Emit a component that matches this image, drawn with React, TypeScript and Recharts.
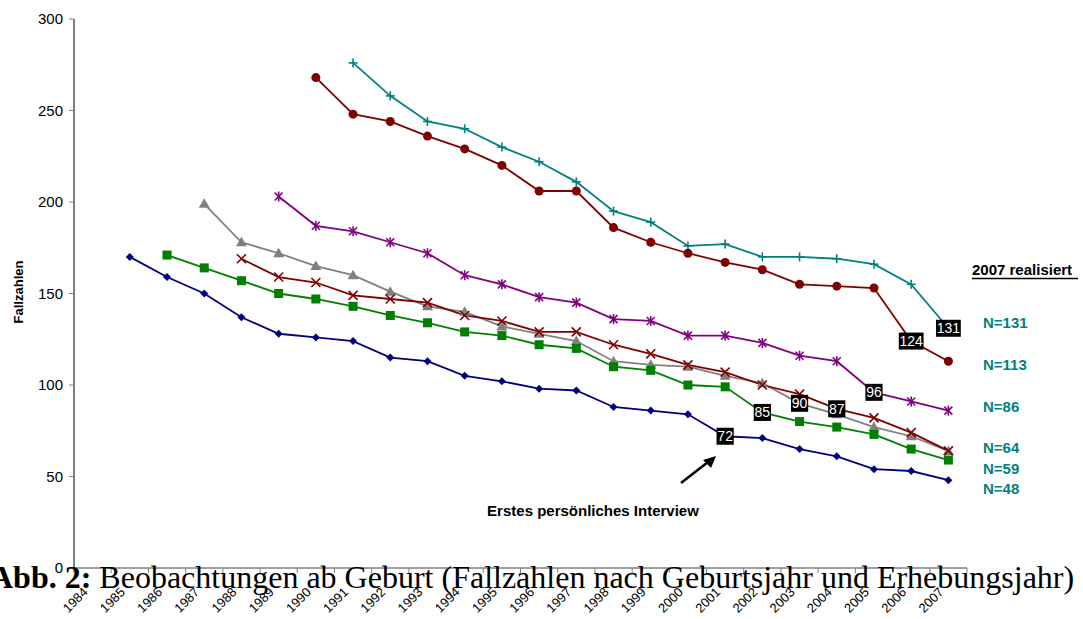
import React from "react";
import { LineChart, Line, XAxis, YAxis, LabelList } from "recharts";

// Erhebungsjahre (x axis)
const years = [
  1984, 1985, 1986, 1987, 1988, 1989, 1990, 1991, 1992, 1993, 1994, 1995,
  1996, 1997, 1998, 1999, 2000, 2001, 2002, 2003, 2004, 2005, 2006, 2007,
];

const yTicks = [0, 50, 100, 150, 200, 250, 300];

// Fallzahlen je Geburtsjahrgang
const jg1985 = [null, 170, 159, 150, 137, 128, 126, 124, 115, 113, 105, 102, 98, 97, 88, 86, 84, 72, 71, 65, 61, 54, 53, 48];
const jg1986 = [null, null, 171, 164, 157, 150, 147, 143, 138, 134, 129, 127, 122, 120, 110, 108, 100, 99, 85, 80, 77, 73, 65, 59];
const jg1987 = [null, null, null, 199, 178, 172, 165, 160, 151, 143, 140, 132, 128, 124, 113, 111, 110, 105, 101, 90, 84, 77, 72, 64];
const jg1988 = [null, null, null, null, 169, 159, 156, 149, 147, 145, 138, 135, 129, 129, 122, 117, 111, 107, 100, 95, 87, 82, 74, 64];
const jg1989 = [null, null, null, null, null, 203, 187, 184, 178, 172, 160, 155, 148, 145, 136, 135, 127, 127, 123, 116, 113, 96, 91, 86];
const jg1990 = [null, null, null, null, null, null, 268, 248, 244, 236, 229, 220, 206, 206, 186, 178, 172, 167, 163, 155, 154, 153, 124, 113];
const jg1991 = [null, null, null, null, null, null, null, 276, 258, 244, 240, 230, 222, 211, 195, 189, 176, 177, 170, 170, 169, 166, 155, 131];

// Jahr des ersten persönlichen Interviews je Jahrgang
const interviewYears = [2001, 2002, 2003, 2004, 2005, 2006, 2007];

// N im Jahr 2007
const realisiert = ["N=131", "N=113", "N=86", "N=64", "N=59", "N=48"];

const data = years.map((year, i) => ({
  year: String(year),
  jg1985: jg1985[i],
  jg1986: jg1986[i],
  jg1987: jg1987[i],
  jg1988: jg1988[i],
  jg1989: jg1989[i],
  jg1990: jg1990[i],
  jg1991: jg1991[i],
}));

const series = [
  { key: "jg1991", color: "#008080", shape: "plus", label: interviewYears[6] },
  { key: "jg1990", color: "#800000", shape: "circle", label: interviewYears[5] },
  { key: "jg1989", color: "#800080", shape: "star", label: interviewYears[4] },
  { key: "jg1987", color: "#808080", shape: "triangle", label: interviewYears[2] },
  { key: "jg1988", color: "#800000", shape: "cross", label: interviewYears[3] },
  { key: "jg1986", color: "#008000", shape: "square", label: interviewYears[1] },
  { key: "jg1985", color: "#000080", shape: "diamond", label: interviewYears[0] },
];

const SANS = "'Liberation Sans', Arial, sans-serif";
const SERIF = "'Liberation Serif', 'Times New Roman', serif";
const BAND = 893 / 24;

function makeDot(shape: string, color: string) {
  return (props: any) => {
    const { cx, cy, value, index } = props;
    const k = `${shape}-${index}`;
    if (value == null || cx == null || cy == null) return <g key={k} />;
    switch (shape) {
      case "diamond":
        return <path key={k} d={`M${cx},${cy - 4}L${cx + 4},${cy}L${cx},${cy + 4}L${cx - 4},${cy}Z`} fill={color} />;
      case "square":
        return <rect key={k} x={cx - 4.5} y={cy - 4.5} width={9} height={9} fill={color} />;
      case "triangle":
        return <path key={k} d={`M${cx},${cy - 5.5}L${cx + 5.5},${cy + 4}L${cx - 5.5},${cy + 4}Z`} fill={color} />;
      case "circle":
        return <circle key={k} cx={cx} cy={cy} r={4.5} fill={color} />;
      case "cross":
        return (
          <g key={k} stroke={color} strokeWidth={1.6}>
            <line x1={cx - 4.5} y1={cy - 4.5} x2={cx + 4.5} y2={cy + 4.5} />
            <line x1={cx - 4.5} y1={cy + 4.5} x2={cx + 4.5} y2={cy - 4.5} />
          </g>
        );
      case "star":
        return (
          <g key={k} stroke={color} strokeWidth={1.6}>
            <line x1={cx - 4} y1={cy - 4} x2={cx + 4} y2={cy + 4} />
            <line x1={cx - 4} y1={cy + 4} x2={cx + 4} y2={cy - 4} />
            <line x1={cx} y1={cy - 5} x2={cx} y2={cy + 5} />
          </g>
        );
      default:
        return (
          <g key={k} stroke={color} strokeWidth={1.6}>
            <line x1={cx - 4.5} y1={cy} x2={cx + 4.5} y2={cy} />
            <line x1={cx} y1={cy - 4.5} x2={cx} y2={cy + 4.5} />
          </g>
        );
    }
  };
}

function makeLabel(labelYear: number) {
  const idx = years.indexOf(labelYear);
  return (props: any) => {
    const { x, y, value, index } = props;
    if (index !== idx || value == null) return <g key={`l-${index}`} />;
    const txt = String(value);
    const w = txt.length * 7.6 + 2;
    return (
      <g key={`l-${index}`}>
        <rect x={x - w / 2} y={y - 8.5} width={w} height={17} fill="#000" />
        <text x={x} y={y + 5} textAnchor="middle" fill="#fff" fontSize={14} fontFamily={SANS}>
          {txt}
        </text>
      </g>
    );
  };
}

function XTick(props: any) {
  const { x, y, payload, index } = props;
  const last = index === years.length - 1;
  return (
    <g>
      <line x1={x - BAND / 2} y1={y - 8} x2={x - BAND / 2} y2={y - 3} stroke="#808080" />
      {last && <line x1={x + BAND / 2} y1={y - 8} x2={x + BAND / 2} y2={y - 3} stroke="#808080" />}
      <text
        x={x - 4}
        y={y + 17}
        textAnchor="end"
        fontSize={13}
        fontFamily={SANS}
        fill="#000"
        transform={`rotate(-45 ${x - 4} ${y + 17})`}
      >
        {payload.value}
      </text>
    </g>
  );
}

export default function App() {
  const nY = [328, 370, 412, 453, 474, 494];
  return (
    <div style={{ position: "absolute", left: 0, top: 0, width: 1083, height: 619, background: "#fff" }}>
      <LineChart width={1083} height={619} data={data} margin={{ top: 19, right: 116, bottom: 0, left: 0 }}>
        <XAxis
          dataKey="year"
          height={51}
          padding={{ left: BAND / 2, right: BAND / 2 }}
          axisLine={{ stroke: "#808080", strokeWidth: 1.5 }}
          tickLine={false}
          tick={<XTick />}
          interval={0}
        />
        <YAxis
          width={74}
          domain={[0, 300]}
          ticks={yTicks}
          axisLine={{ stroke: "#808080", strokeWidth: 2 }}
          tickLine={{ stroke: "#808080" }}
          tickSize={5}
          tickMargin={6}
          tick={{ fill: "#000", fontSize: 15, fontFamily: SANS }}
        />
        {series.map((s) => (
          <Line
            key={s.key}
            dataKey={s.key}
            stroke={s.color}
            strokeWidth={1.8}
            dot={makeDot(s.shape, s.color)}
            activeDot={false}
            isAnimationActive={false}
          >
            <LabelList dataKey={s.key} content={makeLabel(s.label)} />
          </Line>
        ))}
      </LineChart>
      <svg width={1083} height={619} style={{ position: "absolute", left: 0, top: 0, pointerEvents: "none" }}>
        <text
          x={18}
          y={292}
          transform="rotate(-90 18 292)"
          textAnchor="middle"
          dominantBaseline="central"
          fontFamily={SANS}
          fontSize={13}
          fontWeight="bold"
        >
          Fallzahlen
        </text>
        <text x={972} y={275} fontFamily={SANS} fontSize={15} fontWeight="bold">
          2007 realisiert
        </text>
        <line x1={972} y1={278.5} x2={1078} y2={278.5} stroke="#000" strokeWidth={1.5} />
        {realisiert.map((t, i) => (
          <text key={t} x={983} y={nY[i]} fontFamily={SANS} fontSize={15} fontWeight="bold" fill="#008080">
            {t}
          </text>
        ))}
        <text x={593} y={516} textAnchor="middle" fontFamily={SANS} fontSize={15} fontWeight="bold">
          Erstes persönliches Interview
        </text>
        <line x1={681} y1={483} x2={708} y2={462} stroke="#000" strokeWidth={2.5} />
        <path d="M716,456 L703,460 L711,468 Z" fill="#000" />
        <text x={-10} y={588} fontFamily={SERIF} fontSize={32} fill="#000">
          <tspan fontWeight="bold">Abb. 2:</tspan>
          <tspan> Beobachtungen ab Geburt (Fallzahlen nach Geburtsjahr und Erhebungsjahr)</tspan>
        </text>
      </svg>
    </div>
  );
}
